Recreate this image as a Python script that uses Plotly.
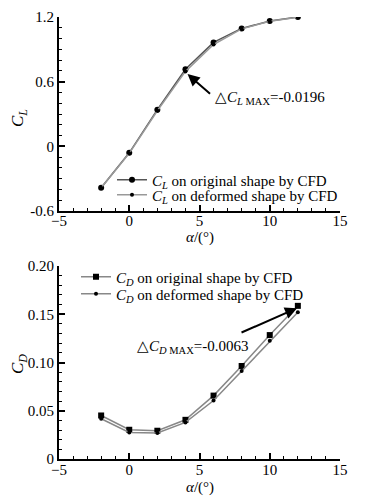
import plotly.graph_objects as go

alpha = [-2, 0, 2, 4, 6, 8, 10, 12]
cl_original = [-0.385, -0.06, 0.34, 0.715, 0.964, 1.094, 1.163, 1.200]
cl_deformed = [-0.385, -0.065, 0.33, 0.695, 0.945, 1.090, 1.160, 1.198]
cd_original = [0.0451, 0.0303, 0.0293, 0.0406, 0.0657, 0.0964, 0.1284, 0.1587]
cd_deformed = [0.0417, 0.0275, 0.0269, 0.0379, 0.0606, 0.0912, 0.1225, 0.1521]

xticks = [-5, 0, 5, 10, 15]
cl_ticks = [-0.6, 0, 0.6, 1.2]
cl_ticklabels = ["-0.6", "0", "0.6", "1.2"]
cd_ticks = [0, 0.05, 0.10, 0.15, 0.20]
cd_ticklabels = ["0", "0.05", "0.10", "0.15", "0.20"]

FONT = "Liberation Serif"
CL = "<i>C</i><sub><i>L</i></sub>"
CD = "<i>C</i><sub><i>D</i></sub>"
XTITLE = "<i>α</i>/(°)"
W, H = 377, 499
OFF = 8  # page body margin


def px_x(p):
    return (p - OFF) / W


def px_y(p):
    return 1 - (p - OFF) / H


fig = go.Figure()
fig.add_trace(go.Scatter(x=alpha, y=cl_original, mode="lines+markers", name=CL + " on original shape by CFD",
                         line=dict(color="#555555", width=1.5), marker=dict(color="black", size=6, symbol="circle"),
                         xaxis="x", yaxis="y", legend="legend"))
fig.add_trace(go.Scatter(x=alpha, y=cl_deformed, mode="lines+markers", name=CL + " on deformed shape by CFD",
                         line=dict(color="#999999", width=1.5), marker=dict(color="black", size=4, symbol="circle"),
                         xaxis="x", yaxis="y", legend="legend2"))
fig.add_trace(go.Scatter(x=alpha, y=cd_original, mode="lines+markers", name=CD + " on original shape by CFD",
                         line=dict(color="#888888", width=1.5), marker=dict(color="black", size=6, symbol="square"),
                         xaxis="x2", yaxis="y2", legend="legend3"))
fig.add_trace(go.Scatter(x=alpha, y=cd_deformed, mode="lines+markers", name=CD + " on deformed shape by CFD",
                         line=dict(color="#888888", width=1.5), marker=dict(color="black", size=4, symbol="circle"),
                         xaxis="x2", yaxis="y2", legend="legend4"))

axis_common = dict(showline=True, linecolor="black", linewidth=2, ticks="inside", ticklen=6, tickwidth=2,
                   tickcolor="black", showgrid=False, zeroline=False, mirror=False, automargin=False,
                   tickfont=dict(family=FONT, size=15, color="black"))
minor_x = dict(dtick=1, ticks="inside", ticklen=3, tickcolor="black", tickwidth=1)
xdom = [px_x(59), px_x(340)]


def leg(xpx, ypx):
    return dict(x=px_x(xpx), y=px_y(ypx), xanchor="left", yanchor="middle", bgcolor="rgba(0,0,0,0)",
                font=dict(family=FONT, size=15), itemwidth=30, borderwidth=0)


fig.update_layout(
    width=W, height=H, margin=dict(l=0, r=0, t=0, b=0, autoexpand=False),
    paper_bgcolor="white", plot_bgcolor="white",
    font=dict(family=FONT, size=15, color="black"),
    xaxis=dict(domain=xdom, range=[-5, 15], tickvals=xticks, anchor="y", minor=minor_x, ticklabelstandoff=-5,
               **axis_common),
    yaxis=dict(domain=[px_y(211), px_y(17)], range=[-0.6, 1.2], tickvals=cl_ticks,
               ticktext=cl_ticklabels, anchor="x", ticklabelstandoff=0,
               minor=dict(dtick=0.1, ticks="inside", ticklen=3, tickcolor="black", tickwidth=1),
               **axis_common),
    xaxis2=dict(domain=xdom, range=[-5, 15], tickvals=xticks, anchor="y2", minor=minor_x, ticklabelstandoff=-4,
                **axis_common),
    yaxis2=dict(domain=[px_y(459), px_y(266)], range=[0, 0.2], tickvals=cd_ticks,
                ticktext=cd_ticklabels, anchor="x2", ticklabelstandoff=0,
                minor=dict(dtick=0.01, ticks="inside", ticklen=3, tickcolor="black", tickwidth=1),
                **axis_common),
    legend=leg(112, 180),
    legend2=leg(112, 195),
    legend3=leg(76, 277),
    legend4=leg(76, 294),
    showlegend=True,
)

# axis titles
for text, xp, yp, ang, size in [(XTITLE, 200, 237, 0, 15), (XTITLE, 200, 487, 0, 15),
                                (CL, 19, 118, -90, 17), (CD, 19, 364, -90, 17)]:
    fig.add_annotation(x=px_x(xp), y=px_y(yp), xref="paper", yref="paper", xanchor="center", yanchor="middle",
                       text=text, textangle=ang, showarrow=False, font=dict(family=FONT, size=size))

fig.add_annotation(x=4.15, y=0.67, xref="x", yref="y", ax=24, ay=21, axref="pixel", ayref="pixel",
                   text="", showarrow=True, arrowhead=2, arrowsize=1.2, arrowwidth=2, arrowcolor="black")
fig.add_annotation(x=5.96, y=0.448, xref="x", yref="y", xanchor="left", yanchor="middle", showarrow=False,
                   text="△<i>C</i><sub><i>L</i> MAX</sub>=-0.0196", font=dict(family=FONT, size=15))
fig.add_annotation(x=11.94, y=0.1563, xref="x2", yref="y2", ax=-57, ay=25, axref="pixel", ayref="pixel",
                   text="", showarrow=True, arrowhead=2, arrowsize=1.2, arrowwidth=2, arrowcolor="black")
fig.add_annotation(x=0.41, y=0.116, xref="x2", yref="y2", xanchor="left", yanchor="middle", showarrow=False,
                   text="△<i>C</i><sub><i>D</i> MAX</sub>=-0.0063", font=dict(family=FONT, size=15))

fig.write_html("out.html")
